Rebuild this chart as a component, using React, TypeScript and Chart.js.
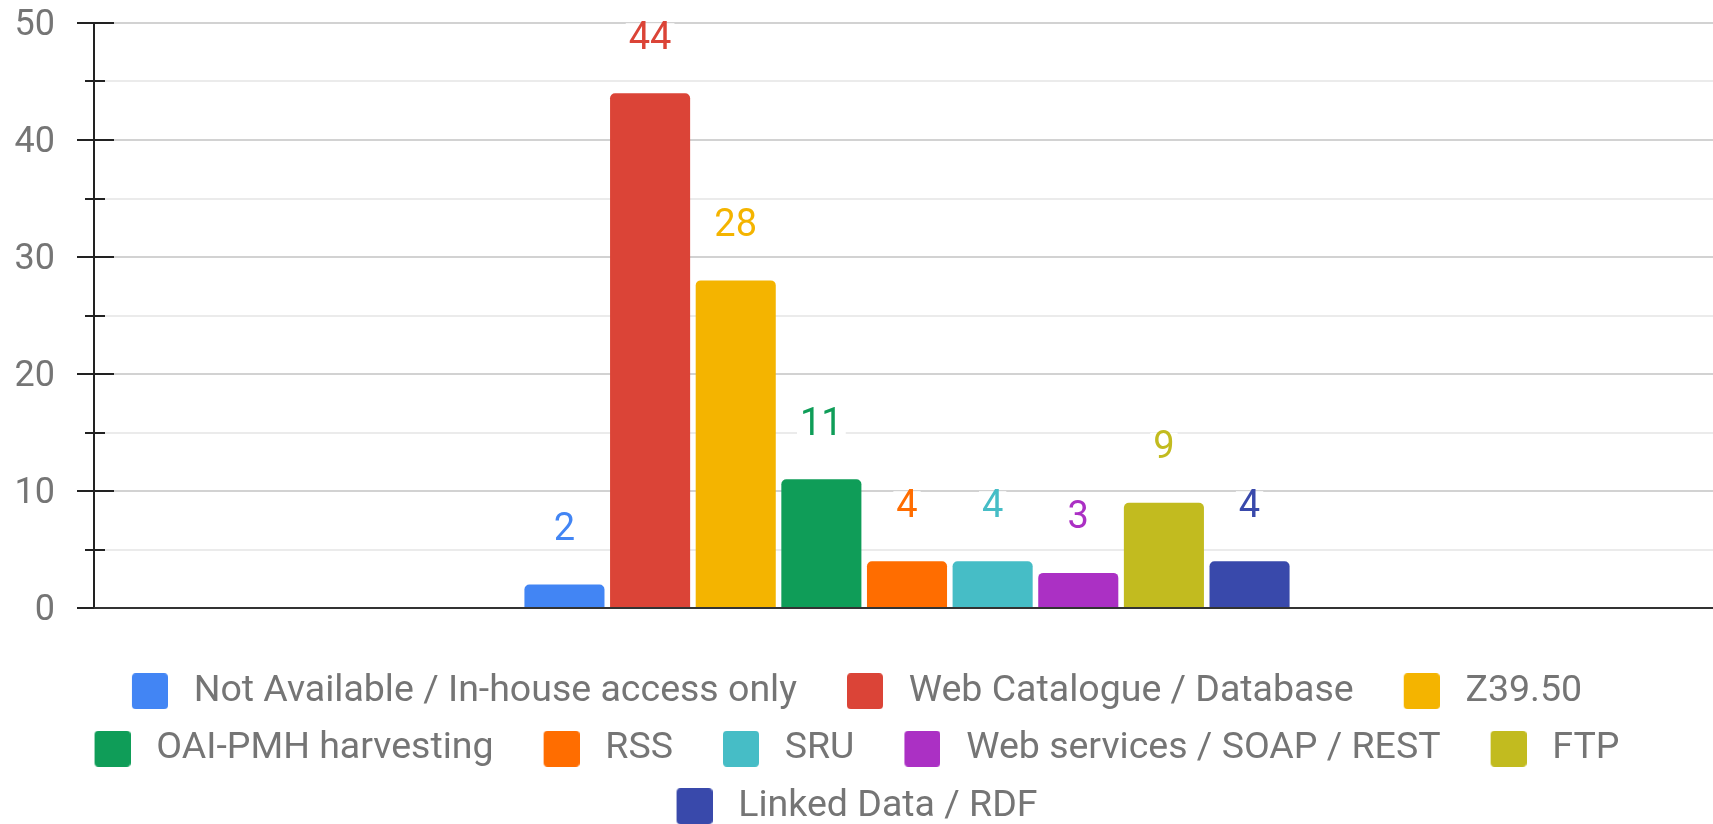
import React, { useEffect, useRef } from 'react';
import { Chart, registerables } from 'chart.js';

Chart.register(...registerables);

const categories = [''];
const seriesNames = [
  'Not Available / In-house access only',
  'Web Catalogue / Database',
  'Z39.50',
  'OAI-PMH harvesting',
  'RSS',
  'SRU',
  'Web services / SOAP / REST',
  'FTP',
  'Linked Data / RDF',
];
const seriesValues = [2, 44, 28, 11, 4, 4, 3, 9, 4];
const seriesColors = [
  '#4285f4',
  '#db4437',
  '#f4b400',
  '#0f9d58',
  '#ff6d00',
  '#46bdc6',
  '#ab30c4',
  '#c2bb1f',
  '#3949ab',
];
const yTickLabels = [0, 10, 20, 30, 40, 50];

const FONT = 'Roboto';
const TEXT_GRAY = '#757575';

function makeLegendImage(color: string): HTMLCanvasElement {
  const c = document.createElement('canvas');
  c.width = 59;
  c.height = 36;
  const g = c.getContext('2d')!;
  g.fillStyle = color;
  g.beginPath();
  (g as any).roundRect(23, 0, 36, 36, 4);
  g.fill();
  return c;
}

const axisPlugin = {
  id: 'axisMarks',
  beforeDatasetsDraw(chart: any) {
    const { ctx, chartArea } = chart;
    const y = chart.scales.y;
    const x0 = Math.round(chartArea.left);
    ctx.save();
    ctx.strokeStyle = '#222222';
    ctx.lineWidth = 2;
    const top = Math.round(y.getPixelForValue(y.max));
    const bottom = Math.round(y.getPixelForValue(y.min));
    ctx.beginPath();
    ctx.moveTo(x0, top - 1);
    ctx.lineTo(x0, bottom + 1);
    ctx.stroke();
    y.ticks.forEach((t: any) => {
      const py = Math.round(y.getPixelForValue(t.value));
      const major = yTickLabels.includes(t.value);
      ctx.beginPath();
      ctx.moveTo(x0 - (major ? 17 : 9), py);
      ctx.lineTo(x0 + (major ? 20 : 11), py);
      ctx.stroke();
    });
    ctx.strokeStyle = '#333333';
    ctx.beginPath();
    ctx.moveTo(x0, bottom);
    ctx.lineTo(chartArea.right, bottom);
    ctx.stroke();
    ctx.restore();
  },
};

const valueLabelPlugin = {
  id: 'valueLabels',
  afterDatasetsDraw(chart: any) {
    const { ctx } = chart;
    ctx.save();
    ctx.font = `38px ${FONT}`;
    ctx.textAlign = 'center';
    ctx.textBaseline = 'middle';
    chart.data.datasets.forEach((ds: any, i: number) => {
      const meta = chart.getDatasetMeta(i);
      meta.data.forEach((el: any, j: number) => {
        const text = String(ds.data[j]);
        const cx = el.x;
        const cy = el.y - 55;
        const w = ctx.measureText(text).width + 6;
        ctx.fillStyle = '#ffffff';
        ctx.fillRect(cx - w / 2, cy - 15, w, 30);
        ctx.fillStyle = ds.backgroundColor;
        ctx.fillText(text, cx, cy + 1);
      });
    });
    ctx.restore();
  },
};

export default function App() {
  const canvasRef = useRef<HTMLCanvasElement | null>(null);

  useEffect(() => {
    if (!canvasRef.current) return;
    const legendImages = seriesColors.map(makeLegendImage);
    const chart = new Chart(canvasRef.current, {
      type: 'bar',
      data: {
        labels: categories,
        datasets: seriesNames.map((name, i) => ({
          label: name,
          data: [seriesValues[i]],
          backgroundColor: seriesColors[i],
          borderWidth: 0,
          borderRadius: 5,
          categoryPercentage: 0.474,
          barPercentage: 0.935,
        })),
      },
      options: {
        animation: false,
        responsive: true,
        maintainAspectRatio: false,
        layout: { padding: { top: 23, left: 0, right: 0, bottom: 0 } },
        scales: {
          x: {
            display: true,
            grid: { display: false },
            border: { display: false },
            ticks: { display: false },
            afterFit: (s: any) => {
              s.height = 44.5;
              s.paddingLeft = 0;
              s.paddingRight = 0;
            },
          },
          y: {
            min: 0,
            max: 50,
            afterFit: (s: any) => {
              s.width = 130;
              s.paddingTop = 0;
              s.paddingBottom = 0;
            },
            border: { display: false },
            grid: {
              drawTicks: false,
              lineWidth: 2,
              color: (c: any) =>
                c.tick && yTickLabels.includes(c.tick.value) ? '#d2d2d2' : '#ebebeb',
            },
            ticks: {
              stepSize: 5,
              autoSkip: false,
              padding: 39,
              labelOffset: 3,
              color: TEXT_GRAY,
              font: { family: FONT, size: 36 },
              callback: (v: any) => (yTickLabels.includes(Number(v)) ? String(v) : ''),
            },
          },
        },
        plugins: {
          tooltip: { enabled: false },
          legend: {
            position: 'bottom',
            labels: {
              usePointStyle: true,
              pointStyleWidth: 73,
              padding: 20,
              color: TEXT_GRAY,
              font: { family: FONT, size: 37.5 },
              generateLabels: (ch: any) =>
                (Chart.defaults.plugins.legend.labels as any)
                  .generateLabels(ch)
                  .map((l: any, i: number) => ({ ...l, pointStyle: legendImages[i] })),
            },
          },
        },
      } as any,
      plugins: [axisPlugin, valueLabelPlugin],
    });
    return () => chart.destroy();
  }, []);

  return (
    <div
      style={{
        position: 'fixed',
        left: 0,
        top: 0,
        width: 1713,
        height: 824,
        overflow: 'hidden',
        background: '#ffffff',
      }}
    >
      <div style={{ position: 'absolute', left: -36, top: 0, width: 1756, height: 835 }}>
        <canvas ref={canvasRef} />
      </div>
    </div>
  );
}
